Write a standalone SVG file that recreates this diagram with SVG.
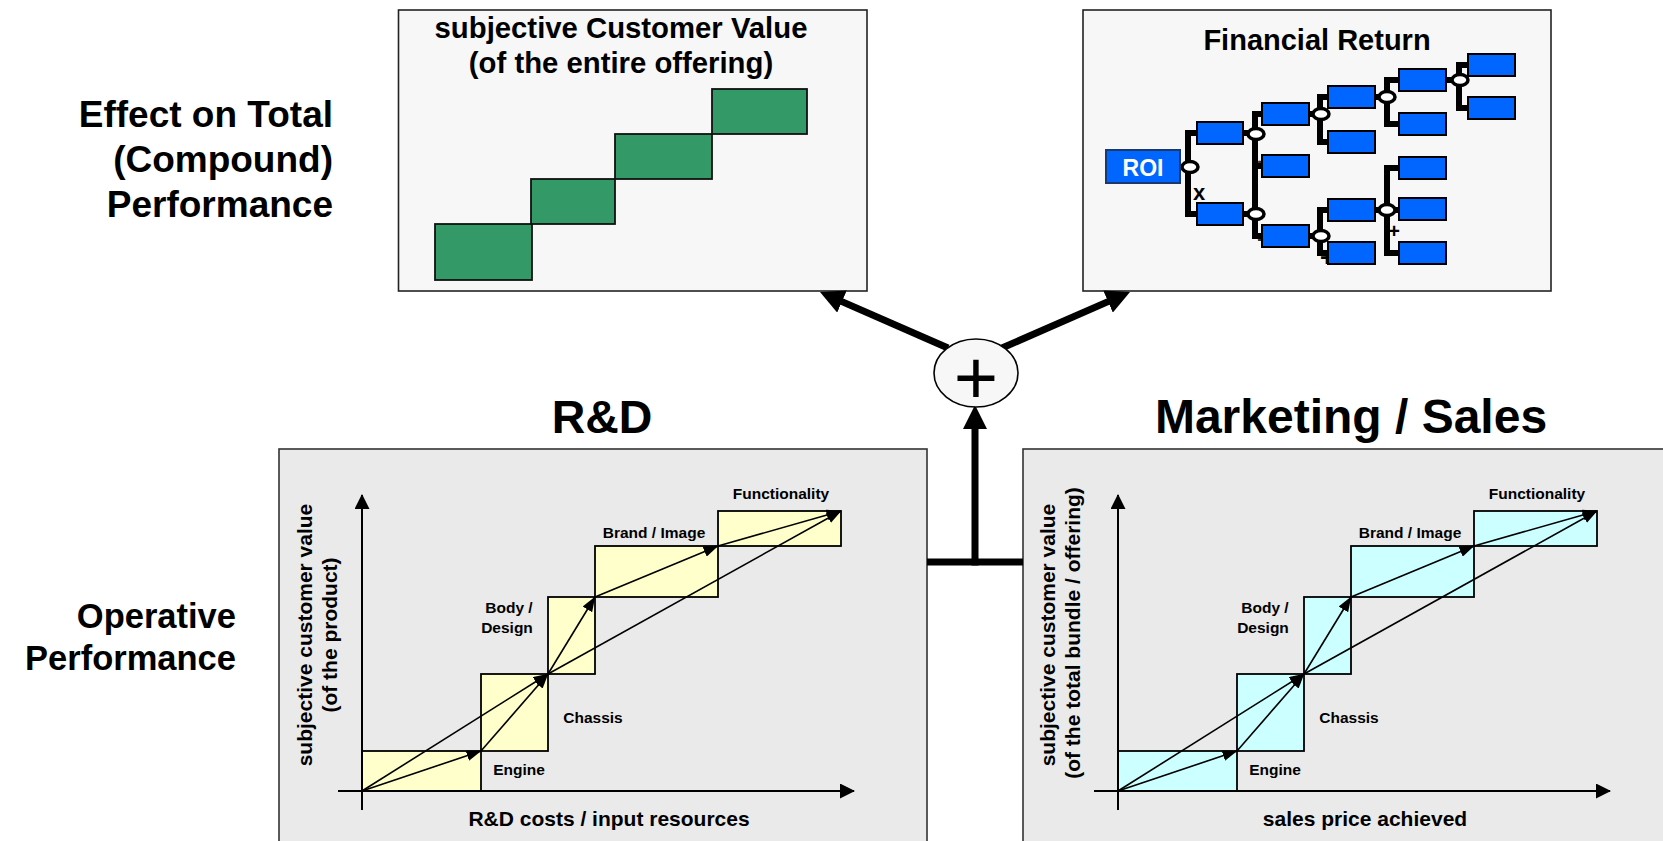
<svg xmlns="http://www.w3.org/2000/svg" width="1663" height="841" viewBox="0 0 1663 841">
<style>
text{font-family:"Liberation Sans",Arial,Helvetica,sans-serif;font-weight:bold;fill:#000}
.frame{fill:#f7f7f7;stroke:#222;stroke-width:1.6}
.panel{fill:#eaeaea;stroke:#333;stroke-width:1.6}
.step{fill:#339966;stroke:#111;stroke-width:1.8}
.yel{fill:#ffffcc;stroke:#000;stroke-width:1.8}
.cyn{fill:#ccffff;stroke:#000;stroke-width:1.8}
.bx{fill:#0066ff;stroke:#000;stroke-width:2}
.br{fill:none;stroke:#000;stroke-width:6;stroke-linejoin:miter}
.jn{fill:#fff;stroke:#000;stroke-width:3.5}
.axis{stroke:#000;stroke-width:2;fill:none}
.ar{stroke:#000;stroke-width:1.6;fill:none;marker-end:url(#sm)}
.thick{stroke:#000;stroke-width:7;fill:none}
.lbl{font-size:15.5px;text-anchor:middle}
.axl{font-size:21px;text-anchor:middle}
.op{font-size:20px;text-anchor:middle}
</style>
<defs>
<marker id="big" markerUnits="userSpaceOnUse" viewBox="0 0 24 24" markerWidth="24" markerHeight="24" refX="5" refY="12" orient="auto"><path d="M0,0 L24,12 L0,24 z" fill="#000"/></marker>
<marker id="sm" markerUnits="userSpaceOnUse" viewBox="0 0 15 11" markerWidth="15" markerHeight="11" refX="14.5" refY="5.5" orient="auto"><path d="M0,0 L15,5.5 L0,11 z" fill="#000"/></marker>
<marker id="ax" markerUnits="userSpaceOnUse" viewBox="0 0 15 15" markerWidth="15" markerHeight="15" refX="14" refY="7.5" orient="auto"><path d="M0,0 L15,7.5 L0,15 z" fill="#000"/></marker>
</defs>
<rect width="1663" height="841" fill="#fff"/>

<g id="heading-effect" style="font-size:37px;text-anchor:end">
<text x="333" y="127">Effect on Total</text>
<text x="333" y="172">(Compound)</text>
<text x="333" y="217">Performance</text>
</g>
<g id="heading-operative" style="font-size:34.5px;text-anchor:end">
<text x="236" y="628">Operative</text>
<text x="236" y="670">Performance</text>
</g>

<g id="box-customer-value">
<rect class="frame" x="398.5" y="10" width="468.5" height="281"/>
<text x="621" y="38" style="font-size:29.3px;text-anchor:middle">subjective Customer Value</text>
<text x="621" y="73" style="font-size:29.3px;text-anchor:middle">(of the entire offering)</text>
<rect class="step" x="435" y="224" width="97" height="56"/>
<rect class="step" x="531" y="179" width="84" height="45"/>
<rect class="step" x="615" y="134" width="97" height="45"/>
<rect class="step" x="712" y="89" width="95" height="45"/>
</g>

<g id="box-financial-return">
<rect class="frame" x="1083" y="10" width="468" height="281"/>
<text x="1317" y="50" style="font-size:29px;text-anchor:middle">Financial Return</text>
<g id="tree-ops">
<text x="1199" y="200" style="font-size:22px;text-anchor:middle">x</text>
<text class="op" x="1263" y="169" style="fill:#333">÷</text>
<text class="op" x="1263" y="247" style="fill:#333">÷</text>
<text class="op" x="1327" y="146">-</text>
<text x="1327" y="266" style="font-size:24px;text-anchor:middle">+</text>
<text class="op" x="1394" y="238">+</text>
</g>
<g id="tree-links">
<line class="br" x1="1180" y1="167" x2="1190" y2="167"/>
<polyline class="br" points="1197,133 1188,133 1188,214 1197,214"/>
<line class="br" x1="1243" y1="133" x2="1256" y2="133"/>
<line class="br" x1="1243" y1="214" x2="1256" y2="214"/>
<polyline class="br" points="1262,114 1255,114 1255,236 1262,236"/>
<line class="br" x1="1255" y1="166" x2="1262" y2="166"/>
<line class="br" x1="1309" y1="114" x2="1321" y2="114"/>
<polyline class="br" points="1328,97 1320,97 1320,142 1328,142"/>
<line class="br" x1="1309" y1="236" x2="1321" y2="236"/>
<polyline class="br" points="1328,210 1320,210 1320,253 1328,253"/>
<line class="br" x1="1375" y1="97" x2="1387" y2="97"/>
<polyline class="br" points="1399,80 1387,80 1387,124 1399,124"/>
<line class="br" x1="1375" y1="210" x2="1399" y2="210"/>
<polyline class="br" points="1399,168 1387,168 1387,253 1399,253"/>
<line class="br" x1="1446" y1="80" x2="1459" y2="80"/>
<polyline class="br" points="1468,65 1459,65 1459,108 1468,108"/>
<ellipse class="jn" cx="1190" cy="167" rx="8" ry="5.5"/>
<ellipse class="jn" cx="1256" cy="134" rx="8" ry="5.5"/>
<ellipse class="jn" cx="1256" cy="214" rx="8" ry="5.5"/>
<ellipse class="jn" cx="1321" cy="114" rx="8" ry="5.5"/>
<ellipse class="jn" cx="1321" cy="236" rx="8" ry="5.5"/>
<ellipse class="jn" cx="1387" cy="97" rx="8" ry="5.5"/>
<ellipse class="jn" cx="1387" cy="210" rx="8" ry="5.5"/>
<ellipse class="jn" cx="1460" cy="80" rx="8" ry="5.5"/>
</g>
<g id="tree-boxes">
<rect x="1106" y="150" width="74" height="33" fill="#0066ff" stroke="#1a3a6e" stroke-width="2"/>
<text x="1143" y="176" style="font-size:23px;text-anchor:middle;fill:#fff">ROI</text>
<rect class="bx" x="1197" y="122" width="46" height="22"/>
<rect class="bx" x="1197" y="203" width="46" height="22"/>
<rect class="bx" x="1262" y="103" width="47" height="22"/>
<rect class="bx" x="1262" y="155" width="47" height="22"/>
<rect class="bx" x="1262" y="225" width="47" height="22"/>
<rect class="bx" x="1328" y="86" width="47" height="22"/>
<rect class="bx" x="1328" y="131" width="47" height="22"/>
<rect class="bx" x="1328" y="199" width="47" height="22"/>
<rect class="bx" x="1328" y="242" width="47" height="22"/>
<rect class="bx" x="1399" y="69" width="47" height="22"/>
<rect class="bx" x="1399" y="113" width="47" height="22"/>
<rect class="bx" x="1399" y="157" width="47" height="22"/>
<rect class="bx" x="1399" y="198" width="47" height="22"/>
<rect class="bx" x="1399" y="242" width="47" height="22"/>
<rect class="bx" x="1468" y="54" width="47" height="22"/>
<rect class="bx" x="1468" y="97" width="47" height="22"/>
</g>
</g>

<g id="panel-rd">
<text x="602" y="433" style="font-size:46.5px;text-anchor:middle">R&amp;D</text>
<rect class="panel" x="279" y="449" width="648" height="420"/>
<g id="chart-rd">
<rect class="yel" x="362" y="751" width="119" height="40"/>
<rect class="yel" x="481" y="674" width="67" height="77"/>
<rect class="yel" x="548" y="597" width="47" height="77"/>
<rect class="yel" x="595" y="546" width="123" height="51"/>
<rect class="yel" x="718" y="511" width="123" height="35"/>
<line class="axis" x1="362" y1="810" x2="362" y2="495" marker-end="url(#ax)"/>
<line class="axis" x1="338" y1="791" x2="854" y2="791" marker-end="url(#ax)"/>
<line class="ar" x1="362" y1="791" x2="481" y2="751"/>
<line class="ar" x1="481" y1="751" x2="548" y2="674"/>
<line class="ar" x1="362" y1="791" x2="548" y2="674"/>
<line class="ar" x1="548" y1="674" x2="595" y2="597"/>
<line class="ar" x1="595" y1="597" x2="718" y2="546"/>
<line class="ar" x1="718" y1="546" x2="841" y2="511"/>
<line class="ar" x1="548" y1="674" x2="841" y2="511"/>
<text class="lbl" x="519" y="775">Engine</text>
<text class="lbl" x="593" y="723">Chassis</text>
<text class="lbl" x="509" y="613">Body /</text>
<text class="lbl" x="507" y="633">Design</text>
<text class="lbl" x="654" y="538">Brand / Image</text>
<text class="lbl" x="781" y="499">Functionality</text>
</g>
<text class="axl" x="609" y="826">R&amp;D costs / input resources</text>
<text class="axl" transform="translate(312,635) rotate(-90)">subjective customer value</text>
<text class="axl" transform="translate(337,635) rotate(-90)">(of the product)</text>
</g>

<g id="panel-ms">
<text x="1351" y="433" style="font-size:48px;text-anchor:middle">Marketing / Sales</text>
<rect class="panel" x="1023" y="449" width="680" height="420"/>
<g id="chart-ms" transform="translate(756,0)">
<rect class="cyn" x="362" y="751" width="119" height="40"/>
<rect class="cyn" x="481" y="674" width="67" height="77"/>
<rect class="cyn" x="548" y="597" width="47" height="77"/>
<rect class="cyn" x="595" y="546" width="123" height="51"/>
<rect class="cyn" x="718" y="511" width="123" height="35"/>
<line class="axis" x1="362" y1="810" x2="362" y2="495" marker-end="url(#ax)"/>
<line class="axis" x1="338" y1="791" x2="854" y2="791" marker-end="url(#ax)"/>
<line class="ar" x1="362" y1="791" x2="481" y2="751"/>
<line class="ar" x1="481" y1="751" x2="548" y2="674"/>
<line class="ar" x1="362" y1="791" x2="548" y2="674"/>
<line class="ar" x1="548" y1="674" x2="595" y2="597"/>
<line class="ar" x1="595" y1="597" x2="718" y2="546"/>
<line class="ar" x1="718" y1="546" x2="841" y2="511"/>
<line class="ar" x1="548" y1="674" x2="841" y2="511"/>
<text class="lbl" x="519" y="775">Engine</text>
<text class="lbl" x="593" y="723">Chassis</text>
<text class="lbl" x="509" y="613">Body /</text>
<text class="lbl" x="507" y="633">Design</text>
<text class="lbl" x="654" y="538">Brand / Image</text>
<text class="lbl" x="781" y="499">Functionality</text>
</g>
<text class="axl" x="1365" y="826">sales price achieved</text>
<text class="axl" transform="translate(1055,635) rotate(-90)">subjective customer value</text>
<text class="axl" transform="translate(1080,633) rotate(-90)">(of the total bundle / offering)</text>
</g>

<g id="connectors">
<line class="thick" x1="927" y1="562" x2="1023" y2="562"/>
<line class="thick" x1="975" y1="565.5" x2="975" y2="424" marker-end="url(#big)"/>
<line class="thick" x1="948" y1="348" x2="837.4" y2="299.6" marker-end="url(#big)"/>
<line class="thick" x1="1002" y1="348" x2="1112.6" y2="299.6" marker-end="url(#big)"/>
</g>

<g id="sum-node">
<ellipse cx="976" cy="373" rx="42" ry="34" fill="#f7f7f7" stroke="#000" stroke-width="1.6"/>
<text x="976" y="404" style="font-size:76px;font-weight:normal;text-anchor:middle">+</text>
</g>
</svg>
